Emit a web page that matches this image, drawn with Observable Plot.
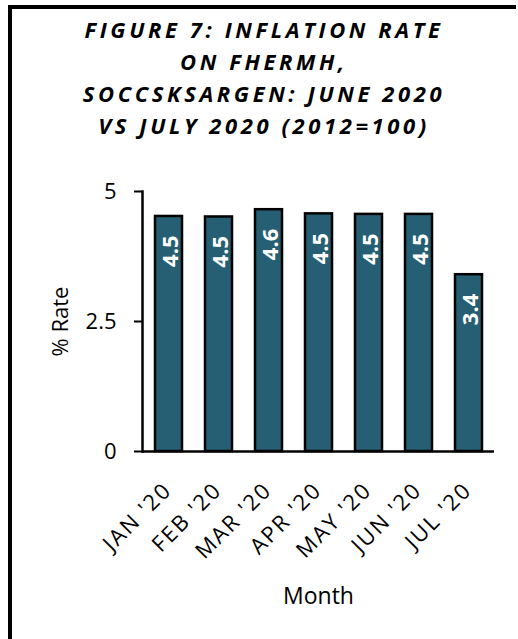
<!DOCTYPE html>
<html><head><meta charset="utf-8">
<script src="https://cdn.jsdelivr.net/npm/d3@7"></script>
<script src="https://cdn.jsdelivr.net/npm/@observablehq/plot@0.6"></script>
<style>
body{margin:0;background:#fff;font-family:"Open Sans",sans-serif;}
#wrap{position:relative;width:518px;height:639px;overflow:hidden;}
#border{position:absolute;left:8px;top:5px;width:504px;height:700px;border-left:4px solid #000;border-top:4px solid #000;}
#title{position:absolute;left:12px;top:13px;width:504px;text-align:center;font:italic 700 22px/32px "Open Sans";letter-spacing:3.6px;color:#000;}
#chart{position:absolute;left:0;top:141px;}
.xlab text{letter-spacing:2px;}
</style></head>
<body>
<div id="wrap">
<div id="border"></div>
<div id="title">FIGURE 7: INFLATION RATE<br>ON FHERMH,<br>SOCCSKSARGEN: JUNE 2020<br>VS JULY 2020 (2012=100)</div>
<div id="chart"></div>
</div>
<script>
const months = ["JAN '20","FEB '20","MAR '20","APR '20","MAY '20","JUN '20","JUL '20"];
const rates = [4.52,4.51,4.65,4.57,4.56,4.56,3.40];
const rateLabels = ["4.5","4.5","4.6","4.5","4.5","4.5","3.4"];
const yTicks = [0,2.5,5];
const data = months.map((m,i)=>({month:m, rate:rates[i], label:rateLabels[i]}));
const chart = Plot.plot({
  width:518, height:498, marginTop:50, marginBottom:188, marginLeft:142, marginRight:24,
  style:{fontFamily:"Open Sans", fontSize:"22px", color:"#000", background:"transparent"},
  x:{domain:months, paddingInner:0.47, paddingOuter:0.213, label:null},
  y:{domain:[0,5], label:null},
  marks:[
    Plot.barY(data,{x:"month",y:"rate",fill:"#265f73",stroke:"#000",strokeWidth:2.5}),
    Plot.text(data,{x:"month",y:"rate",text:"label",rotate:-90,textAnchor:"end",lineAnchor:"middle",dy:19,dx:2,fill:"#fff",fontWeight:"bold",fontSize:22}),
    Plot.frame({anchor:"left",strokeWidth:2.5}),
    Plot.ruleY([0],{strokeWidth:2.5}),
    Plot.axisY({ticks:yTicks,tickSize:8,tickPadding:18,tickFormat:d=>String(d),label:null,strokeWidth:2,fontSize:22}),
    Plot.axisX({tickRotate:-45,tickSize:0,tickPadding:35,dx:-1,label:null,fontSize:22,className:"xlab"}),
    Plot.text(["% Rate"],{frameAnchor:"left",textAnchor:"middle",dx:-82,rotate:-90,fontSize:22}),
    Plot.text(["Month"],{frameAnchor:"bottom",lineAnchor:"middle",dy:145,fontSize:23})
  ]
});
document.getElementById("chart").appendChild(chart);
</script>
</body></html>
